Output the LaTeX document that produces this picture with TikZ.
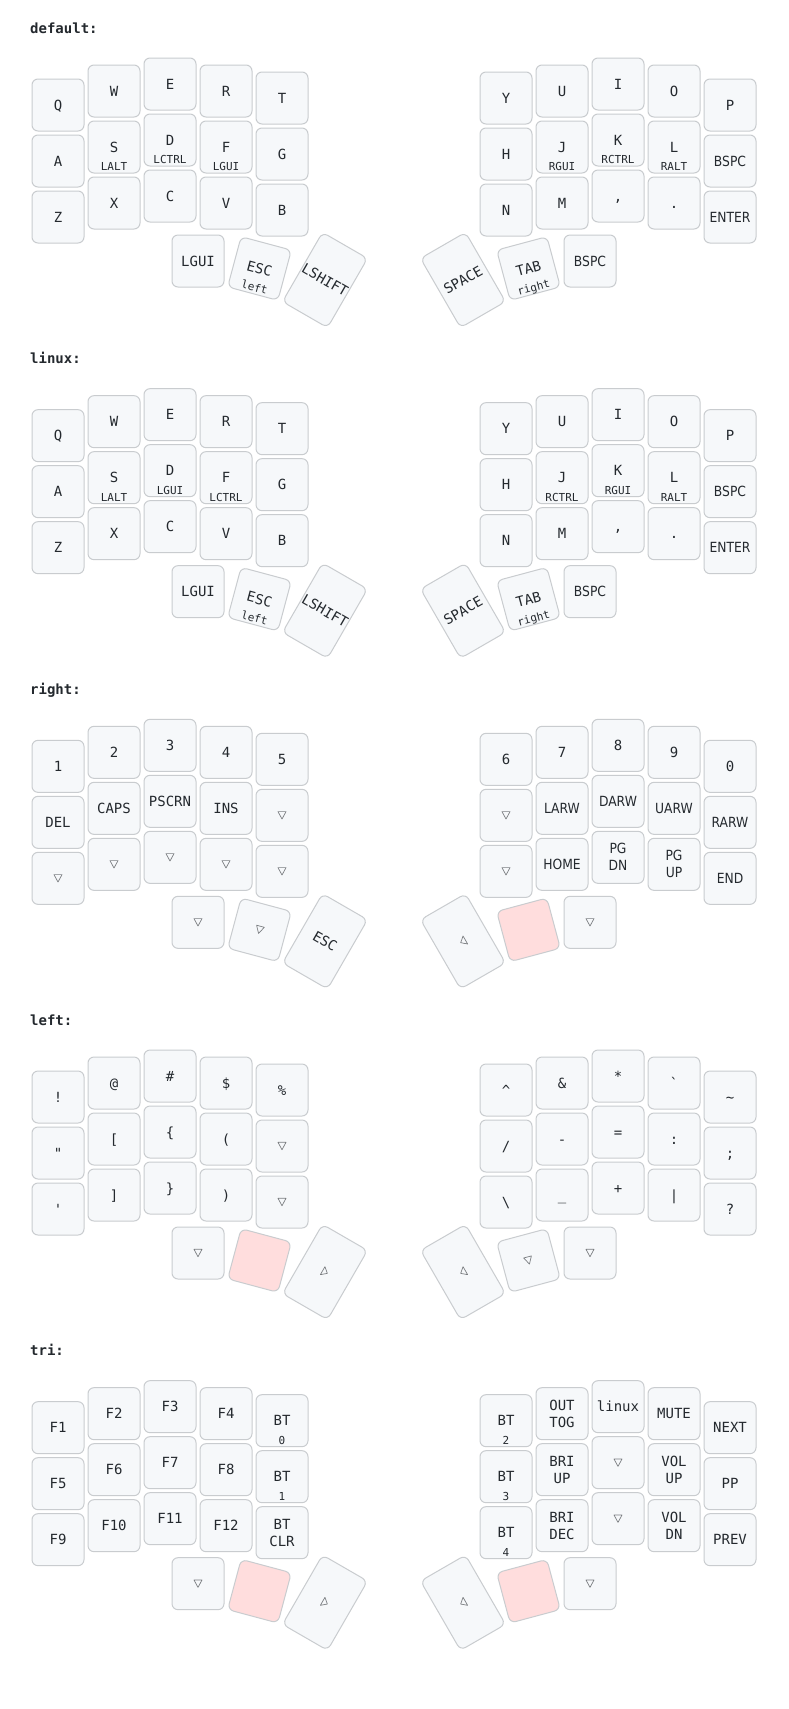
\documentclass[tikz,border=0pt]{standalone}
\usepackage{fontspec}
\usetikzlibrary{calc}
\newfontfamily\keyf{DejaVu Sans Mono}
\newfontfamily\condf[FakeStretch=0.88]{DejaVu Sans}
\definecolor{keyfill}{HTML}{F6F8FA}
\definecolor{keystroke}{HTML}{C9CCCF}
\definecolor{heldfill}{HTML}{FFDDDD}
\definecolor{textc}{HTML}{24292E}
\definecolor{transc}{HTML}{7B7E81}
\tikzset{
  keybox/.style={draw=keystroke, fill=keyfill, line width=1pt, rounded corners=6pt,
    minimum width=52pt, minimum height=52pt, inner sep=0pt, outer sep=0pt},
  tallkey/.style={minimum height=80pt},
  heldkey/.style={fill=heldfill},
  keytext/.style={font=\keyf\fontsize{14}{17}\selectfont, text=textc, inner sep=0pt,
    text height=10.2pt, text depth=0pt},
  condtext/.style={keytext, font=\condf\fontsize{14}{17}\selectfont},
  holdtext/.style={font=\keyf\fontsize{11}{13}\selectfont, text=textc, inner sep=0pt,
    text height=8pt, text depth=0pt},
  transline/.style={draw=transc, line width=0.7pt, line join=round},
  layerlabel/.style={font=\keyf\bfseries\fontsize{14}{17}\selectfont, text=textc,
    inner sep=0pt, anchor=base west},
}
% key: name, x, y, rotation, extra style, legend code
\newcommand\key[6]{%
  \node[keybox,rotate=#4,#5] (#1) at (#2,#3) {};%
  \def\kn{#1}\def\kr{#4}%
  #6}
\newcommand\T[1]{\node[keytext,rotate=\kr] (\kn-t) at (\kn.center) {#1};}
\newcommand\C[1]{\node[condtext,rotate=\kr] (\kn-t) at (\kn.center) {#1};}
\newcommand\Hd[1]{\node[holdtext,rotate=\kr] (\kn-h) at ($(\kn.center)!0.75!(\kn.south)$) {#1};}
\newcommand\TT[2]{%
  \node[keytext,rotate=\kr] (\kn-t) at ($(\kn.center)!0.327!(\kn.north)$) {#1};%
  \node[keytext,rotate=\kr] (\kn-b) at ($(\kn.center)!0.327!(\kn.south)$) {#2};}
\newcommand\CC[2]{%
  \node[condtext,rotate=\kr] (\kn-t) at ($(\kn.center)!0.327!(\kn.north)$) {#1};%
  \node[condtext,rotate=\kr] (\kn-b) at ($(\kn.center)!0.327!(\kn.south)$) {#2};}
% outlined transparent-key triangle
% #1 = apex direction relative to the key (0 = right), #2 = half depth, #3 = half base
\newcommand\tri[3]{%
  \pgfmathsetmacro\td{\kr+#1}%
  \draw[transline] ($(\kn.center)+(\td:#2pt)$)
    -- ($(\kn.center)+(\td+180:#2pt)+(\td+90:#3pt)$)
    -- ($(\kn.center)+(\td+180:#2pt)+(\td-90:#3pt)$) -- cycle;}
\newcommand\Tr{\tri{-90}{3.7}{4}}
\newcommand\TLt{\tri{180}{2.7}{4.6}}
\newcommand\TRt{\tri{0}{2.7}{4.6}}
\newcommand\Lrow[6]{%
  \key{\lp l#1a}{58}{105+56*#1}{0}{}{#2}%
  \key{\lp l#1b}{114}{91+56*#1}{0}{}{#3}%
  \key{\lp l#1c}{170}{84+56*#1}{0}{}{#4}%
  \key{\lp l#1d}{226}{91+56*#1}{0}{}{#5}%
  \key{\lp l#1e}{282}{98+56*#1}{0}{}{#6}}
\newcommand\Rrow[6]{%
  \key{\lp r#1a}{506}{98+56*#1}{0}{}{#2}%
  \key{\lp r#1b}{562}{91+56*#1}{0}{}{#3}%
  \key{\lp r#1c}{618}{84+56*#1}{0}{}{#4}%
  \key{\lp r#1d}{674}{91+56*#1}{0}{}{#5}%
  \key{\lp r#1e}{730}{105+56*#1}{0}{}{#6}}
\newcommand\LThumbs[6]{%
  \key{\lp t1}{198}{261}{0}{#1}{#2}%
  \key{\lp t2}{259.5}{268.5}{-15}{#3}{#4}%
  \key{\lp t3}{325}{280}{-30}{tallkey,#5}{#6}}
\newcommand\RThumbs[6]{%
  \key{\lp t4}{463}{280}{30}{tallkey,#1}{#2}%
  \key{\lp t5}{528.5}{268.5}{15}{#3}{#4}%
  \key{\lp t6}{590}{261}{0}{#5}{#6}}
\begin{document}
\begin{tikzpicture}[x=1pt,y=-1pt]
\fill[white] (0,0) rectangle (788,1709);
\useasboundingbox (0,0) rectangle (788,1709);
% ---------- default ----------
\def\lp{d}
\begin{scope}[shift={(0,0)}]
\node[layerlabel] (\lp-label) at (30,33) {default:};
\Lrow{0}{\T{Q}}{\T{W}}{\T{E}}{\T{R}}{\T{T}}
\Lrow{1}{\T{A}}{\T{S}\Hd{LALT}}{\T{D}\Hd{LCTRL}}{\T{F}\Hd{LGUI}}{\T{G}}
\Lrow{2}{\T{Z}}{\T{X}}{\T{C}}{\T{V}}{\T{B}}
\Rrow{0}{\T{Y}}{\T{U}}{\T{I}}{\T{O}}{\T{P}}
\Rrow{1}{\T{H}}{\T{J}\Hd{RGUI}}{\T{K}\Hd{RCTRL}}{\T{L}\Hd{RALT}}{\C{BSPC}}
\Rrow{2}{\T{N}}{\T{M}}{\T{,}}{\T{.}}{\C{ENTER}}
\LThumbs{}{\T{LGUI}}{}{\T{ESC}\Hd{left}}{}{\T{LSHIFT}}
\RThumbs{}{\T{SPACE}}{}{\T{TAB}\Hd{right}}{}{\C{BSPC}}
\end{scope}
% ---------- linux ----------
\def\lp{x}
\begin{scope}[shift={(0,330.67)}]
\node[layerlabel] (\lp-label) at (30,33) {linux:};
\Lrow{0}{\T{Q}}{\T{W}}{\T{E}}{\T{R}}{\T{T}}
\Lrow{1}{\T{A}}{\T{S}\Hd{LALT}}{\T{D}\Hd{LGUI}}{\T{F}\Hd{LCTRL}}{\T{G}}
\Lrow{2}{\T{Z}}{\T{X}}{\T{C}}{\T{V}}{\T{B}}
\Rrow{0}{\T{Y}}{\T{U}}{\T{I}}{\T{O}}{\T{P}}
\Rrow{1}{\T{H}}{\T{J}\Hd{RCTRL}}{\T{K}\Hd{RGUI}}{\T{L}\Hd{RALT}}{\C{BSPC}}
\Rrow{2}{\T{N}}{\T{M}}{\T{,}}{\T{.}}{\C{ENTER}}
\LThumbs{}{\T{LGUI}}{}{\T{ESC}\Hd{left}}{}{\T{LSHIFT}}
\RThumbs{}{\T{SPACE}}{}{\T{TAB}\Hd{right}}{}{\C{BSPC}}
\end{scope}
% ---------- right ----------
\def\lp{g}
\begin{scope}[shift={(0,661.33)}]
\node[layerlabel] (\lp-label) at (30,33) {right:};
\Lrow{0}{\T{1}}{\T{2}}{\T{3}}{\T{4}}{\T{5}}
\Lrow{1}{\T{DEL}}{\T{CAPS}}{\T{PSCRN}}{\T{INS}}{\Tr}
\Lrow{2}{\Tr}{\Tr}{\Tr}{\Tr}{\Tr}
\Rrow{0}{\T{6}}{\T{7}}{\T{8}}{\T{9}}{\T{0}}
\Rrow{1}{\Tr}{\C{LARW}}{\C{DARW}}{\C{UARW}}{\C{RARW}}
\Rrow{2}{\Tr}{\C{HOME}}{\CC{PG}{DN}}{\CC{PG}{UP}}{\C{END}}
\LThumbs{}{\Tr}{}{\Tr}{}{\T{ESC}}
\RThumbs{}{\TLt}{heldkey}{}{}{\Tr}
\end{scope}
% ---------- left ----------
\def\lp{s}
\begin{scope}[shift={(0,992)}]
\node[layerlabel] (\lp-label) at (30,33) {left:};
\Lrow{0}{\T{!}}{\T{@}}{\T{\#}}{\T{\$}}{\T{\%}}
\Lrow{1}{\T{\char"22}}{\T{[}}{\T{\{}}{\T{(}}{\Tr}
\Lrow{2}{\T{\char"27}}{\T{]}}{\T{\}}}{\T{)}}{\Tr}
\Rrow{0}{\T{\char"5E}}{\T{\&}}{\T{*}}{\T{\char"60}}{\T{\char"7E}}
\Rrow{1}{\T{/}}{\T{\char"2D}}{\T{=}}{\T{:}}{\T{;}}
\Rrow{2}{\T{\char"5C}}{\T{\char"5F}}{\T{+}}{\T{\char"7C}}{\T{?}}
\LThumbs{}{\Tr}{heldkey}{}{}{\TRt}
\RThumbs{}{\TLt}{}{\Tr}{}{\Tr}
\end{scope}
% ---------- tri ----------
\def\lp{t}
\begin{scope}[shift={(0,1322.67)}]
\node[layerlabel] (\lp-label) at (30,33) {tri:};
\Lrow{0}{\T{F1}}{\T{F2}}{\T{F3}}{\T{F4}}{\T{BT}\Hd{0}}
\Lrow{1}{\T{F5}}{\T{F6}}{\T{F7}}{\T{F8}}{\T{BT}\Hd{1}}
\Lrow{2}{\T{F9}}{\T{F10}}{\T{F11}}{\T{F12}}{\TT{BT}{CLR}}
\Rrow{0}{\T{BT}\Hd{2}}{\TT{OUT}{TOG}}{\T{linux}}{\T{MUTE}}{\T{NEXT}}
\Rrow{1}{\T{BT}\Hd{3}}{\TT{BRI}{UP}}{\Tr}{\TT{VOL}{UP}}{\T{PP}}
\Rrow{2}{\T{BT}\Hd{4}}{\TT{BRI}{DEC}}{\Tr}{\TT{VOL}{DN}}{\T{PREV}}
\LThumbs{}{\Tr}{heldkey}{}{}{\TRt}
\RThumbs{}{\TLt}{heldkey}{}{}{\Tr}
\end{scope}
\end{tikzpicture}
\end{document}
